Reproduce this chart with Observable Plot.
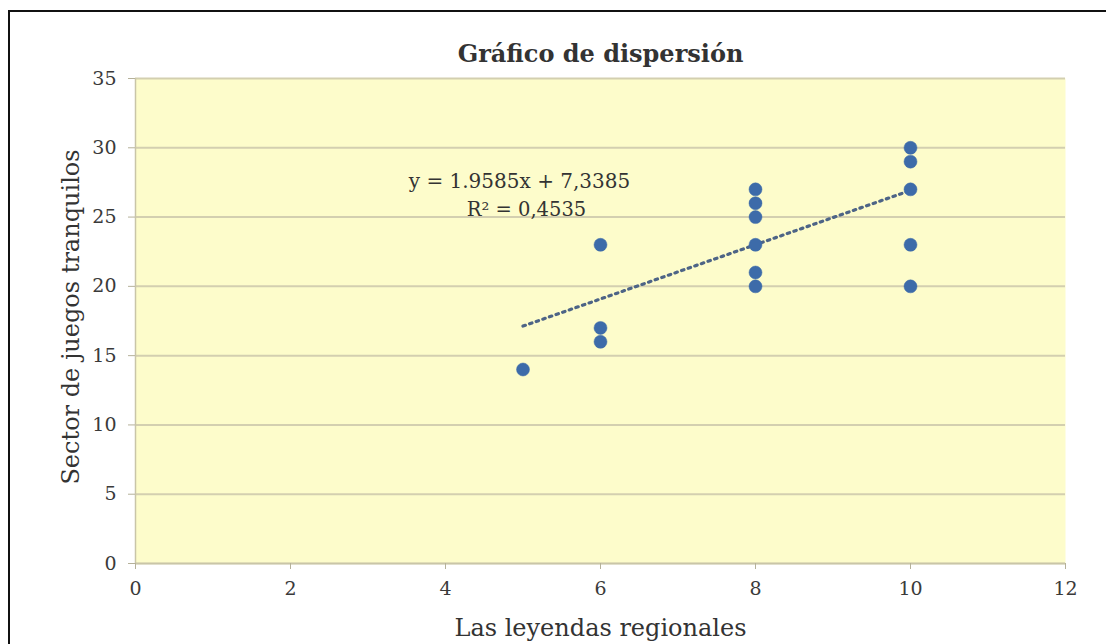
<!DOCTYPE html>
<html><head><meta charset="utf-8">
<script src="https://cdn.jsdelivr.net/npm/d3@7"></script>
<script src="https://cdn.jsdelivr.net/npm/@observablehq/plot@0.6"></script>
<style>
html,body{margin:0;padding:0;background:#fff;overflow:hidden;}
#wrap{position:relative;width:1106px;height:644px;}
#border{position:absolute;left:8px;top:10px;width:1120px;height:660px;border:2px solid #111;box-sizing:border-box;pointer-events:none;}
</style></head>
<body><div id="wrap"><div id="border"></div><div id="chart"></div></div>
<script>
const xValues = [5, 6, 6, 6, 8, 8, 8, 8, 8, 8, 10, 10, 10, 10, 10];
const yValues = [14, 23, 17, 16, 27, 26, 25, 23, 21, 20, 30, 29, 27, 23, 20];
const xTicks = [0, 2, 4, 6, 8, 10, 12];
const yTicks = [0, 5, 10, 15, 20, 25, 30, 35];
const trendSlope = 1.9585;
const trendIntercept = 7.3385;
const trendRange = [5, 10];
const title = "Gráfico de dispersión";
const xLabel = "Las leyendas regionales";
const yLabel = "Sector de juegos tranquilos";
const equationLines = ["y = 1.9585x + 7,3385", "R² = 0,4535"];

const points = xValues.map((x, i) => ({x, y: yValues[i]}));
const trend = trendRange.map(x => ({x, y: trendSlope * x + trendIntercept}));
const serif = "'DejaVu Serif', 'Liberation Serif', serif";

const chart = Plot.plot({
  width: 1106, height: 644,
  marginLeft: 135, marginRight: 41, marginTop: 78, marginBottom: 81,
  style: {fontFamily: serif, background: "transparent", overflow: "visible"},
  x: {domain: [0, 12], ticks: xTicks},
  y: {domain: [0, 35], ticks: yTicks},
  marks: [
    Plot.frame({fill: "#fdfccb", stroke: "none"}),
    Plot.gridY(yTicks, {stroke: "#d3cfb0", strokeOpacity: 1, strokeWidth: 2}),
    Plot.ruleX([0], {stroke: "#c9c5a8", strokeWidth: 1.5}),
    Plot.ruleY([0], {stroke: "#c9c5a8", strokeWidth: 1.5}),
    Plot.axisY(yTicks, {tickSize: 7, tickPadding: 12, stroke: "#b5b19a", fill: "#3a3a3a", fontSize: 19, label: null}),
    Plot.axisX(xTicks, {tickSize: 6, tickPadding: 12, stroke: "#b5b19a", fill: "#3a3a3a", fontSize: 19, label: null}),
    Plot.line(trend, {x: "x", y: "y", stroke: "#4d6486", strokeWidth: 3.2, strokeDasharray: "2.5,4.5"}),
    Plot.dot(points, {x: "x", y: "y", r: 6.5, fill: "#3d6ba9", stroke: "#3d6ba9", strokeWidth: 0.5}),
    Plot.text([title], {frameAnchor: "top", lineAnchor: "middle", dy: -24, fontSize: 24, fontWeight: "bold", fill: "#333", text: d => d}),
    Plot.text([xLabel], {frameAnchor: "bottom", lineAnchor: "middle", dy: 65, fontSize: 24, fill: "#333", text: d => d}),
    Plot.text([yLabel], {frameAnchor: "left", dx: -64, dy: -4, rotate: -90, textAnchor: "middle", fontSize: 24, fill: "#333", text: d => d}),
    Plot.text([equationLines[0]], {frameAnchor: "top-left", lineAnchor: "middle", textAnchor: "middle", dx: 384, dy: 103, fontSize: 20, fill: "#333", text: d => d}),
    Plot.text([equationLines[1]], {frameAnchor: "top-left", lineAnchor: "middle", textAnchor: "middle", dx: 391, dy: 131, fontSize: 19.5, fill: "#333", text: d => d})
  ]
});
document.getElementById("chart").append(chart);
</script></body></html>
